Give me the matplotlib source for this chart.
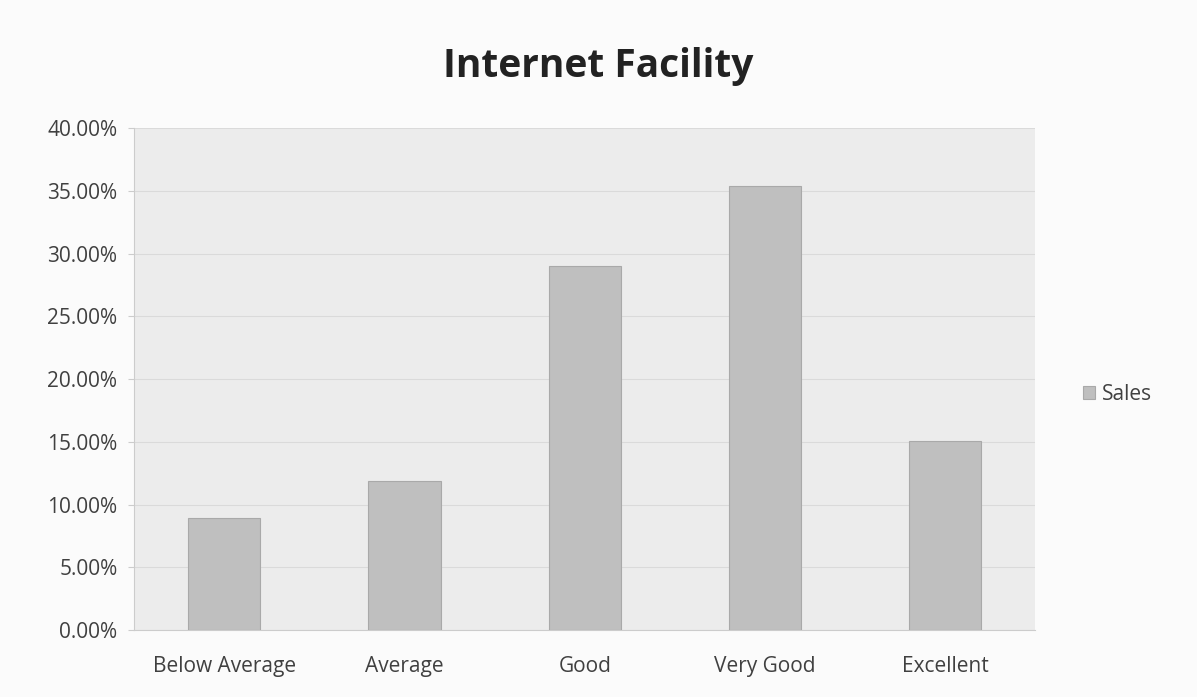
import matplotlib
matplotlib.use("Agg")
import matplotlib.pyplot as plt
from matplotlib.ticker import FuncFormatter, MultipleLocator

categories = ["Below Average", "Average", "Good", "Very Good", "Excellent"]
sales = [8.9, 11.9, 29.0, 35.4, 15.1]   # percent
series_name = "Sales"
title = "Internet Facility"

plt.rcParams["font.family"] = ["Open Sans", "DejaVu Sans"]

fig = plt.figure(figsize=(11.97, 6.97), dpi=100)
fig.patch.set_facecolor("#fbfbfb")
ax = fig.add_axes([0.112, 0.096, 0.753, 0.72])
ax.set_facecolor("#ececec")

x = range(len(categories))
ax.bar(x, sales, width=0.4, color="#bfbfbf", edgecolor="#a9a9a9", linewidth=0.8,
       label=series_name, zorder=3)

ax.set_xlim(-0.5, len(categories) - 0.5)
ax.set_ylim(0, 40)
ax.yaxis.set_major_locator(MultipleLocator(5))
ax.yaxis.set_major_formatter(FuncFormatter(lambda v, p: "%.2f%%" % v))
ax.set_xticks(list(x))
ax.set_xticklabels(categories)
ax.grid(axis="y", color="#dadada", linewidth=0.8, zorder=0)
ax.tick_params(axis="x", labelsize=15, colors="#404040", length=0, pad=19)
ax.tick_params(axis="y", labelsize=15, colors="#404040", length=4, color="#cccccc", pad=8)
for s in ("top", "right"):
    ax.spines[s].set_visible(False)
ax.spines["left"].set_color("#cccccc")
ax.spines["bottom"].set_color("#cccccc")

fig.text(0.5, 0.905, title, ha="center", va="center", fontsize=28, fontweight="bold",
         color="#222222")
ax.legend(loc="center left", bbox_to_anchor=(1.032, 0.47), frameon=False, fontsize=15,
          handlelength=0.6, handleheight=0.6, handletextpad=0.3, labelcolor="#404040")

fig.savefig("out.png", dpi=100)
